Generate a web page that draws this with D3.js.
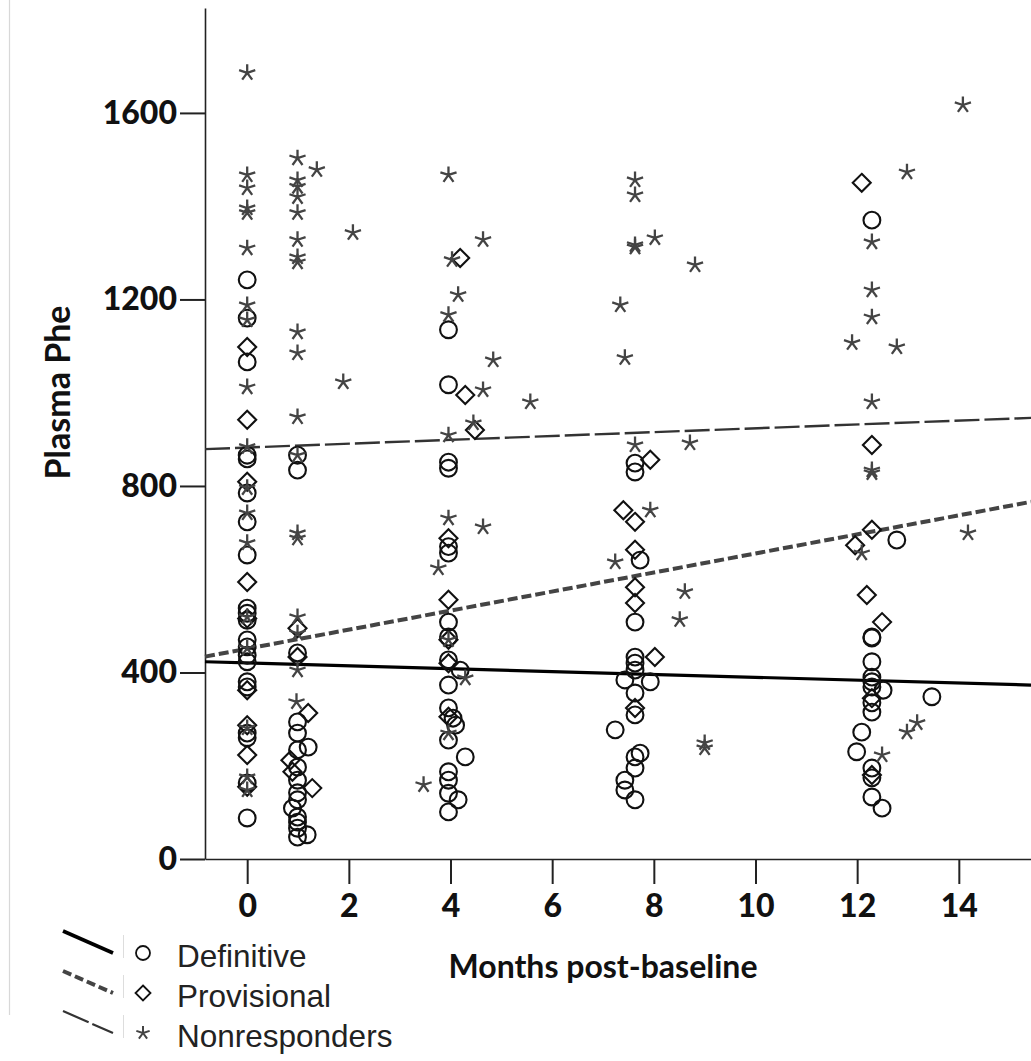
<!DOCTYPE html>
<html>
<head>
<meta charset="utf-8">
<script src="https://cdn.jsdelivr.net/npm/d3@7"></script>
<style>
  html, body { margin: 0; padding: 0; background: #fff; }
  svg { display: block; }
</style>
</head>
<body>
<svg id="chart" width="1031" height="1061"></svg>
<script>
// ---------------- DATA ----------------
const xTicks = [0, 2, 4, 6, 8, 10, 12, 14];
const yTicks = [0, 400, 800, 1200, 1600];
const seriesNames = ["Definitive", "Provisional", "Nonresponders"];

// Definitive (circles)
const defX = [
  0,0,0,0,0,0,0,0,0,0,0,0,0,0,0,0,0,0,0,0,0,
  0.99,0.99,0.99,0.99,0.99,0.99,0.99,0.99,0.99,0.99,0.89,0.99,0.99,0.99,0.99,1.2,1.18,
  3.96,3.96,3.96,3.96,3.96,3.96,3.96,3.96,3.96,3.96,3.96,4.05,4.1,3.96,3.96,3.96,3.96,3.96,4.19,4.29,4.15,
  7.63,7.63,7.63,7.63,7.63,7.63,7.63,7.63,7.63,7.63,7.63,7.73,7.43,7.93,7.24,7.73,7.43,7.43,
  12.29,12.29,12.29,12.29,12.29,12.29,12.29,12.29,12.29,12.29,12.29,12.29,12.78,12.51,13.47,12.09,11.99,12.49
];
const defY = [
  1242,1160,1066,866,858,785,723,652,538,527,512,470,455,437,423,380,369,270,260,163,88,
  866,834,442,294,270,234,197,169,142,127,109,90,79,66,47,240,52,
  1135,1017,851,838,670,656,508,476,427,373,324,302,287,255,187,169,141,101,405,219,127,
  849,830,508,433,420,405,356,309,219,195,127,641,384,380,277,227,169,148,
  1370,476,474,423,390,380,369,335,315,195,174,133,684,362,348,272,230,109
];

// Provisional (diamonds)
const provX = [
  0,0,0,0,0,0,0,0,0,
  0.99,0.99,1.2,0.85,0.89,1.28,
  3.96,3.96,3.96,3.96,3.96,4.19,4.29,4.48,
  7.63,7.63,7.63,7.63,7.63,7.93,7.4,8.02,
  12.29,12.29,12.29,12.29,12.09,11.96,12.19,12.49
];
const provY = [
  1098,942,809,594,516,362,287,223,155,
  495,433,313,212,187,152,
  688,556,470,420,305,1289,995,920,
  723,663,583,549,324,856,748,433,
  888,706,345,180,1450,673,566,508
];

// Nonresponders (asterisks)
const nonX = [
  0,0,0,0,0,0,0,0,0,0,0,0,0,0,0,0,0,0,
  0.99,0.99,0.99,0.99,0.99,0.99,0.99,0.99,0.99,0.99,0.99,0.99,0.99,0.99,0.99,0.99,0.99,0.97,
  1.37,1.89,2.08,
  3.96,3.96,3.96,3.96,3.96,3.96,4.64,4.64,4.64,4.03,4.15,4.84,5.57,4.45,3.76,4.29,3.47,
  7.63,7.63,7.63,7.63,7.63,8.02,8.81,7.34,7.43,8.71,7.93,7.24,8.61,8.51,9.0,9.0,
  12.29,12.29,12.29,12.29,12.29,12.29,14.08,12.98,11.9,12.78,14.18,12.09,13.18,12.98,12.49
];
const nonY = [
  1686,1467,1439,1396,1386,1310,1188,1156,1012,884,796,742,678,519,452,281,176,148,
  1503,1456,1442,1420,1386,1328,1291,1280,1130,1085,948,866,699,688,519,484,405,337,
  1478,1023,1343,
  1467,1167,909,731,470,270,1328,1006,712,1285,1210,1070,980,935,624,388,159,
  1456,1424,1317,1312,888,1332,1274,1188,1075,892,748,637,573,513,249,238,
  1323,1220,1162,980,834,828,1617,1473,1107,1098,699,656,292,272,223
];

// Fit lines (value at left and right end of the x range)
const fitXRange = [-0.83, 15.42];
const defFit = [423, 373];
const provFit = [434, 766];
const nonFit = [879, 946];

// ---------------- CHART ----------------
const svg = d3.select("#chart");
const x = d3.scaleLinear().domain([-0.83, 15.42]).range([205, 1031]);
const y = d3.scaleLinear().domain([0, 1825]).range([859, 8]);

const tickFont = "Lato, 'Open Sans', sans-serif";
const legendFont = "'Liberation Sans', Arial, sans-serif";

// faint frame line at far left
svg.append("line").attr("x1", 9.5).attr("x2", 9.5).attr("y1", 0).attr("y2", 1015)
  .attr("stroke", "#d8d8d8").attr("stroke-width", 1.2);

// axes
const yAxis = d3.axisLeft(y).tickValues(yTicks).tickFormat(d3.format("d"))
  .tickSize(25).tickSizeOuter(0).tickPadding(3);
const xAxis = d3.axisBottom(x).tickValues(xTicks).tickFormat(d3.format("d"))
  .tickSize(25).tickSizeOuter(0).tickPadding(10);

const gy = svg.append("g").attr("transform", "translate(205,0)").call(yAxis);
const gx = svg.append("g").attr("transform", "translate(0,859)").call(xAxis);
[gx, gy].forEach(g => {
  g.select(".domain").attr("stroke", "#222").attr("stroke-width", 1.6);
  g.selectAll(".tick line").attr("stroke", "#222").attr("stroke-width", 2);
  g.selectAll(".tick text").attr("fill", "#111")
    .style("font-family", tickFont).style("font-weight", "900").style("font-size", "32px");
});

// axis titles
svg.append("text")
  .attr("transform", "translate(70,392.5) rotate(-90)")
  .attr("text-anchor", "middle")
  .style("font-family", tickFont).style("font-weight", "700").style("font-size", "34px")
  .attr("fill", "#111")
  .text("Plasma Phe");

svg.append("text")
  .attr("x", 603).attr("y", 978)
  .attr("text-anchor", "middle")
  .style("font-family", tickFont).style("font-weight", "700").style("font-size", "32px")
  .attr("fill", "#111")
  .text("Months post-baseline");

// fit lines
const lineStyles = [
  { fit: defFit, stroke: "#000", width: 3.2, dash: null },
  { fit: provFit, stroke: "#444", width: 4, dash: "10,4" },
  { fit: nonFit, stroke: "#333", width: 2.4, dash: "25,5" }
];
lineStyles.forEach(s => {
  svg.append("line")
    .attr("x1", x(fitXRange[0])).attr("y1", y(s.fit[0]))
    .attr("x2", x(fitXRange[1])).attr("y2", y(s.fit[1]))
    .attr("stroke", s.stroke).attr("stroke-width", s.width)
    .attr("stroke-dasharray", s.dash);
});

// marker shapes
function starPath(r) {
  let p = "";
  for (let k = 0; k < 5; k++) {
    const a = -Math.PI / 2 + k * 2 * Math.PI / 5;
    p += `M0,0L${(r * Math.cos(a)).toFixed(2)},${(r * Math.sin(a)).toFixed(2)}`;
  }
  return p;
}
function diamondPath(r) {
  return `M0,${-r}L${r},0L0,${r}L${-r},0Z`;
}

const pts = svg.append("g");
// circles
pts.selectAll("circle.def").data(defX.map((v, i) => [v, defY[i]])).enter()
  .append("circle").attr("class", "def")
  .attr("cx", d => x(d[0])).attr("cy", d => y(d[1])).attr("r", 8.4)
  .attr("fill", "none").attr("stroke", "#111").attr("stroke-width", 2.1);
// diamonds
pts.selectAll("path.prov").data(provX.map((v, i) => [v, provY[i]])).enter()
  .append("path").attr("class", "prov")
  .attr("transform", d => `translate(${x(d[0])},${y(d[1])})`)
  .attr("d", diamondPath(9))
  .attr("fill", "none").attr("stroke", "#111").attr("stroke-width", 2.1);
// asterisks
pts.selectAll("path.non").data(nonX.map((v, i) => [v, nonY[i]])).enter()
  .append("path").attr("class", "non")
  .attr("transform", d => `translate(${x(d[0])},${y(d[1])})`)
  .attr("d", starPath(8.5))
  .attr("fill", "none").attr("stroke", "#444").attr("stroke-width", 2.3)
  .attr("stroke-linecap", "butt");

// legend
const legY = [953, 993, 1033];
const leg = svg.append("g");
lineStyles.forEach((s, i) => {
  leg.append("line")
    .attr("x1", 63).attr("y1", legY[i] - 22).attr("x2", 113).attr("y2", legY[i])
    .attr("stroke", s.stroke).attr("stroke-width", i === 0 ? 3.6 : (i === 1 ? 4 : 2.2))
    .attr("stroke-dasharray", i === 0 ? null : (i === 1 ? "9,4" : "28,4"));
  leg.append("line")
    .attr("x1", 123.5).attr("x2", 123.5).attr("y1", legY[i] - 18).attr("y2", legY[i] + 5)
    .attr("stroke", "#ddd").attr("stroke-width", 1);
  leg.append("text")
    .attr("x", 177).attr("y", legY[i] + 14)
    .style("font-family", legendFont).style("font-size", "31.5px")
    .attr("fill", "#222")
    .text(seriesNames[i]);
});
leg.append("circle").attr("cx", 143).attr("cy", legY[0]).attr("r", 7)
  .attr("fill", "none").attr("stroke", "#111").attr("stroke-width", 1.8);
leg.append("path").attr("transform", `translate(143,${legY[1]})`).attr("d", diamondPath(7.5))
  .attr("fill", "none").attr("stroke", "#111").attr("stroke-width", 1.8);
leg.append("path").attr("transform", `translate(143,${legY[2]})`).attr("d", starPath(7))
  .attr("fill", "none").attr("stroke", "#444").attr("stroke-width", 2);
</script>
</body>
</html>
